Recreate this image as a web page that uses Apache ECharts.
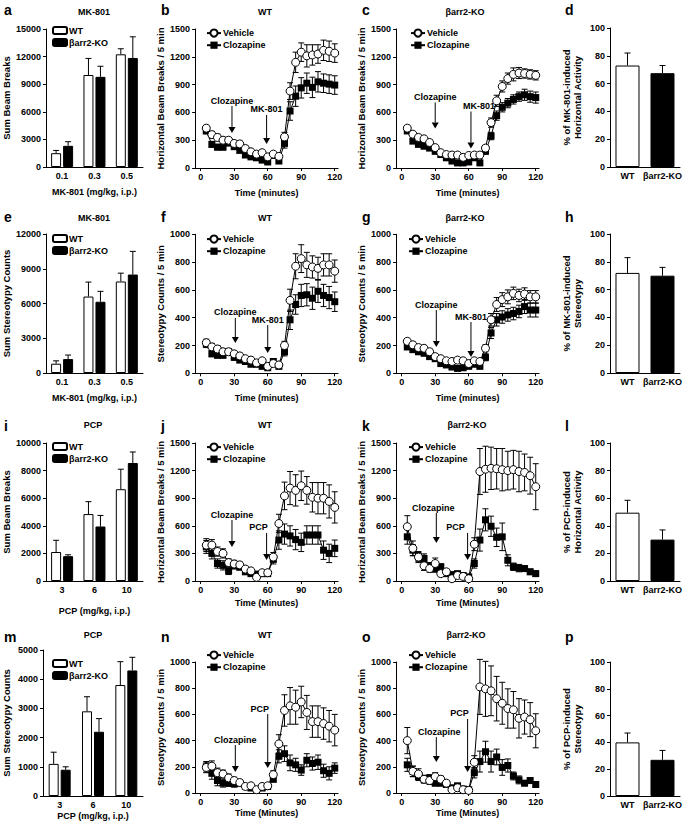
<!DOCTYPE html>
<html><head><meta charset="utf-8">
<script src="https://cdn.jsdelivr.net/npm/echarts@6/dist/echarts.min.js"></script>
<style>html,body{margin:0;padding:0;background:#fff}#c{width:685px;height:823px}</style>
</head><body><div id="c"></div>
<script>
// ---------------- DATA ----------------
const timePts = [5,10,15,20,25,30,35,40,45,50,55,60,65,70,75,80,85,90,95,100,105,110,115,120];
const timeTicks = [0,30,60,90,120];
const mkDoses = ['0.1','0.3','0.5'];
const pcpDoses = ['3','6','10'];
const genotypes = ['WT','βarr2-KO'];

// a: MK-801 sum beam breaks
const aWT = [1500,10000,12250], aWTSem = [300,1800,600];
const aKO = [2300,9800,11850], aKOSem = [450,1150,2300];
// e: MK-801 sum stereotypy
const eWT = [800,6600,7900], eWTSem = [250,1250,720];
const eKO = [1200,6150,8500], eKOSem = [350,900,2000];
// i: PCP sum beam breaks
const iWT = [2100,4850,6650], iWTSem = [850,900,1450];
const iKO = [1800,3950,8550], iKOSem = [100,800,800];
// m: PCP sum stereotypy
const mWT = [1100,2900,3800], mWTSem = [400,500,800];
const mKO = [900,2200,4300], mKOSem = [100,450,450];

// b: WT horizontal, MK-801
const bVehicle = [430,360,330,300,300,265,260,210,175,150,165,120,150,125,335,830,1140,1250,1210,1220,1230,1270,1260,1240];
const bVehicleSem = [30,35,35,30,30,30,30,30,25,25,25,20,25,25,50,90,110,100,120,110,100,110,110,100];
const bClozapine = [400,255,225,225,270,230,190,140,120,110,85,65,135,75,265,615,775,865,915,870,930,915,905,895];
const bClozapineSem = [30,30,30,30,30,30,25,25,25,25,20,20,25,20,50,100,110,110,110,110,110,100,100,100];
// c: KO horizontal, MK-801
const cVehicle = [430,365,330,315,275,220,165,145,140,140,115,135,140,140,215,490,725,880,965,1010,1025,1020,1010,1000];
const cVehicleSem = [25,25,25,25,25,25,20,20,20,20,20,20,20,20,30,50,60,60,60,70,60,50,50,50];
const cClozapine = [400,290,255,235,215,180,145,110,75,55,55,65,110,55,180,345,565,655,700,740,770,790,770,760];
const cClozapineSem = [25,25,25,25,25,25,20,20,20,15,15,15,20,15,30,40,50,50,50,50,50,60,60,60];
// f: WT stereotypy, MK-801
const fVehicle = [220,190,175,155,155,140,125,105,95,75,90,50,70,60,200,525,770,825,780,765,755,780,780,735];
const fVehicleSem = [25,25,25,20,20,20,20,15,15,15,15,10,15,15,30,80,90,100,90,80,80,80,80,80];
const fClozapine = [210,140,130,130,155,115,95,85,65,65,50,40,85,50,155,385,495,560,565,540,590,560,545,515];
const fClozapineSem = [25,20,20,20,20,20,15,15,15,15,10,10,15,10,30,70,70,80,80,80,80,80,80,70];
// g: KO stereotypy, MK-801
const gVehicle = [230,205,185,180,155,120,105,90,85,95,90,70,90,85,180,385,495,530,550,575,560,570,550,550];
const gVehicleSem = [20,20,20,20,20,20,15,15,15,15,15,15,15,15,25,45,50,50,50,45,45,45,45,45];
const gClozapine = [190,170,155,145,120,105,70,60,45,35,40,50,65,50,115,290,385,405,420,430,445,480,455,455];
const gClozapineSem = [20,20,20,20,15,15,15,15,10,10,10,10,15,10,25,40,45,45,45,45,45,50,50,50];
// j: WT horizontal, PCP
const jVehicle = [390,390,320,300,200,185,175,130,110,40,90,90,260,625,925,1010,985,1035,985,910,900,900,865,800];
const jVehicleSem = [70,60,50,50,40,40,30,30,25,20,20,20,50,100,150,180,170,160,150,160,170,170,180,170];
const jClozapine = [370,300,190,170,110,170,150,100,80,75,80,80,235,445,510,490,450,420,500,500,500,335,300,355];
const jClozapineSem = [70,60,50,50,40,40,30,25,20,20,20,20,50,100,110,110,110,100,100,100,100,100,100,90];
// k: KO horizontal, PCP
const kVehicle = [590,355,260,165,135,190,80,100,25,60,50,25,400,1190,1215,1225,1220,1210,1200,1210,1190,1180,1145,1025];
const kVehicleSem = [120,80,60,50,40,60,30,30,20,25,20,15,70,250,250,230,220,230,210,210,220,200,200,250];
const kClozapine = [480,335,260,245,160,135,155,80,70,80,60,45,190,445,665,595,475,480,225,155,140,135,100,80];
const kClozapineSem = [80,60,50,50,40,40,30,20,20,20,20,15,50,120,120,110,100,150,60,40,40,30,30,30];
// n: WT stereotypy, PCP
const nVehicle = [195,205,155,145,115,95,80,50,55,25,50,55,140,375,630,665,655,695,615,545,545,530,510,480];
const nVehicleSem = [40,40,35,30,30,25,20,15,15,10,15,15,30,70,120,140,130,120,130,120,120,120,120,120];
const nClozapine = [200,150,95,75,80,70,75,50,38,25,38,50,105,280,300,230,215,175,250,225,235,170,150,190];
const nClozapineSem = [40,45,40,30,30,25,20,15,15,10,15,15,20,50,60,60,50,40,50,50,55,50,50,40];
// o: KO stereotypy, PCP
const oVehicle = [400,165,145,105,95,125,105,75,25,40,25,20,235,810,795,780,720,685,645,635,570,580,560,475];
const oVehicleSem = [100,40,40,30,30,30,25,20,15,15,15,10,50,210,210,190,170,160,150,140,150,130,130,130];
const oClozapine = [215,165,125,105,115,75,75,65,40,55,30,25,155,240,315,240,275,195,210,130,100,75,95,65];
const oClozapineSem = [50,40,30,25,25,20,20,15,15,15,10,10,40,80,80,80,60,60,50,30,30,20,20,20];

// percent panels
const dPct = [73,67.5], dSem = [9,5.5];
const hPct = [72,70], hSem = [11,6];
const lPct = [49.5,30], lSem = [9,7];
const pPct = [40,27], pSem = [7,7];

// arrow annotations (data units)
const arrowsB = [{label:'Clozapine', x:28, from:669, to:378}, {label:'MK-801', x:59, from:572, to:259}];
const arrowsC = [{label:'Clozapine', x:30, from:707, to:426}, {label:'MK-801', x:62, from:610, to:210}];
const arrowsF = [{label:'Clozapine', x:31, from:398, to:218}, {label:'MK-801', x:60, from:347, to:146}];
const arrowsG = [{label:'Clozapine', x:31, from:455, to:189}, {label:'MK-801', x:62, from:369, to:117}];
const arrowsJ = [{label:'Clozapine', x:28, from:663, to:370}, {label:'PCP', x:59, from:522, to:228}];
const arrowsK = [{label:'Clozapine', x:31, from:739, to:413}, {label:'PCP', x:59, from:522, to:228}];
const arrowsN = [{label:'PCP', x:60, from:603, to:191}, {label:'Clozapine', x:31, from:366, to:160}];
const arrowsO = [{label:'PCP', x:59, from:565, to:160}, {label:'Clozapine', x:31, from:427, to:237}];

// ---------------- BUILD ----------------
const FONT = "'Liberation Sans', Arial, Helvetica, sans-serif";
const BLACK = '#000';
const txt = (size) => ({fontFamily: FONT, fontWeight: 'bold', fontSize: size, color: BLACK});
const SC = 1.117; // px per minute

const option = {animation:false, backgroundColor:'#fff', textStyle:{fontFamily:FONT},
  grid:[], xAxis:[], yAxis:[], series:[], legend:[], graphic:[]};

function addGrid(left, top, width, height){
  option.grid.push({left, top, width, height, containLabel:false});
  return option.grid.length - 1;
}
const axisLine = {show:true, onZero:false, lineStyle:{color:BLACK, width:1}};
function yAxisDef(gi, max, interval, name, nameGap){
  return {type:'value', gridIndex:gi, min:0, max, interval, name, nameLocation:'middle', nameGap,
    nameTextStyle:Object.assign(txt(9.5), {lineHeight:11}),
    axisLine, axisTick:{show:true, length:3, lineStyle:{color:BLACK, width:1}},
    axisLabel:Object.assign(txt(9), {margin:5, formatter:(v)=>String(v)}), splitLine:{show:false}};
}
function errRender(offset, twoSided){
  return function(params, api){
    const x = api.value(0), m = api.value(1), e = api.value(2);
    const top = api.coord([x, m + e]);
    const bot = api.coord([x, twoSided ? Math.max(0, m - e) : m]);
    const cx = top[0] + offset, w = 3;
    const st = {stroke:BLACK, lineWidth:1};
    const ch = [
      {type:'line', shape:{x1:cx, y1:top[1], x2:cx, y2:bot[1]}, style:st},
      {type:'line', shape:{x1:cx-w, y1:top[1], x2:cx+w, y2:top[1]}, style:st}];
    if (twoSided) ch.push({type:'line', shape:{x1:cx-w, y1:bot[1], x2:cx+w, y2:bot[1]}, style:st});
    return {type:'group', children:ch};
  };
}
function arrowRender(list, dxs){
  return function(params, api){
    const a = list[params.dataIndex];
    const s = api.coord([api.value(0), api.value(1)]);
    const e = api.coord([api.value(0), api.value(2)]);
    const h = 6, w = 3.5;
    return {type:'group', children:[
      {type:'line', shape:{x1:s[0], y1:s[1], x2:e[0], y2:e[1]-h}, style:{stroke:BLACK, lineWidth:1}},
      {type:'polygon', shape:{points:[[e[0]-w, e[1]-h],[e[0]+w, e[1]-h],[e[0], e[1]]]}, style:{fill:BLACK}},
      {type:'text', x:s[0] + (dxs[params.dataIndex]||0), y:s[1]-1,
        style:{text:a.label, fill:BLACK, font:'bold 9px ' + FONT, align:'center', verticalAlign:'bottom', textAlign:'center', textVerticalAlign:'bottom'}}
    ]};
  };
}
function legendDef(left, top, names, iw, ih, gap){
  return {show:true, orient:'vertical', left, top, padding:0, itemWidth:iw, itemHeight:ih, itemGap:gap,
    data:names, selectedMode:false, textStyle:Object.assign(txt(9), {padding:[0,0,0,-3]})};
}
function addText(text, x, y, size, align){
  option.graphic.push({type:'text', x, y, silent:true,
    style:{text, fill:BLACK, font:'bold ' + size + 'px ' + FONT, align:align, verticalAlign:'middle', textAlign:align, textVerticalAlign:'middle'}});
}

function timePanel(p){
  const gi = addGrid(p.x0 - 5*SC, p.top, 128*SC, p.bottom - p.top);
  option.xAxis.push({type:'value', gridIndex:gi, min:-5, max:123, name:p.xname, nameLocation:'middle', nameGap:p.xGap,
    nameTextStyle:txt(9), axisLine,
    axisTick:{show:true, length:3, customValues:timeTicks, lineStyle:{color:BLACK, width:1}},
    axisLabel:Object.assign(txt(9), {margin:4, customValues:timeTicks}), splitLine:{show:false}});
  option.yAxis.push(yAxisDef(gi, p.ymax, p.yint, p.yname, p.yGap));
  const common = {xAxisIndex:gi, yAxisIndex:gi};
  option.series.push(Object.assign({type:'custom', name:'semC'+gi, renderItem:errRender(0, true), clip:false, z:1, silent:true,
    data:timePts.map((t,k)=>[t, p.clo[k], p.cloSem[k]])}, common));
  option.series.push(Object.assign({type:'custom', name:'semV'+gi, renderItem:errRender(0, true), clip:false, z:1, silent:true,
    data:timePts.map((t,k)=>[t, p.veh[k], p.vehSem[k]])}, common));
  option.series.push(Object.assign({type:'line', name:'Clozapine', z:2, symbol:'rect', symbolSize:7, showAllSymbol:true,
    itemStyle:{color:BLACK}, lineStyle:{color:BLACK, width:1}, silent:true,
    data:timePts.map((t,k)=>[t, p.clo[k]])}, common));
  option.series.push(Object.assign({type:'line', name:'Vehicle', z:3, symbol:'circle', symbolSize:8, showAllSymbol:true,
    itemStyle:{color:'#fff', borderColor:BLACK, borderWidth:1}, lineStyle:{color:BLACK, width:1}, silent:true,
    data:timePts.map((t,k)=>[t, p.veh[k]])}, common));
  option.series.push(Object.assign({type:'custom', name:'arr'+gi, renderItem:arrowRender(p.arrows, p.dx||[]), clip:false, z:4, silent:true,
    data:p.arrows.map(a=>[a.x, a.from, a.to])}, common));
  option.legend.push(legendDef(p.legX, p.legY, ['Vehicle','Clozapine'], 14, 9, 3));
  addText(p.title, p.titleX, p.titleY, 9, 'center');
  addText(p.letter, p.letterX, p.letterY, 14, 'left');
}

function barPanel(p){
  const gi = addGrid(43, p.top, 100, p.bottom - p.top);
  option.xAxis.push({type:'category', gridIndex:gi, data:p.cats, name:p.xname, nameLocation:'middle', nameGap:p.xGap,
    nameTextStyle:txt(9), axisLine, axisTick:{show:false}, axisLabel:Object.assign(txt(9), {margin:4, interval:0}), splitLine:{show:false}});
  option.yAxis.push(yAxisDef(gi, p.ymax, p.yint, p.yname, p.yGap));
  const common = {xAxisIndex:gi, yAxisIndex:gi};
  option.series.push(Object.assign({type:'bar', name:'WT', data:p.wt, barWidth:10, barGap:'20%', silent:true,
    itemStyle:{color:'#fff', borderColor:BLACK, borderWidth:1}}, common));
  option.series.push(Object.assign({type:'bar', name:'βarr2-KO', data:p.ko, barWidth:10, barGap:'20%', silent:true,
    itemStyle:{color:BLACK, borderColor:BLACK, borderWidth:1}}, common));
  option.series.push(Object.assign({type:'custom', name:'eW'+gi, renderItem:errRender(-6, false), clip:false, z:3, silent:true,
    data:p.wt.map((v,k)=>[k, v, p.wtSem[k]])}, common));
  option.series.push(Object.assign({type:'custom', name:'eK'+gi, renderItem:errRender(6, false), clip:false, z:3, silent:true,
    data:p.ko.map((v,k)=>[k, v, p.koSem[k]])}, common));
  option.legend.push(legendDef(52, p.legY, ['WT','βarr2-KO'], 14, 7, 3));
  addText(p.title, p.titleX, p.titleY, 9, 'center');
  addText(p.letter, 4, p.letterY, 14, 'left');
}

function pctPanel(p){
  const gi = addGrid(610, p.top, 70, p.bottom - p.top);
  option.xAxis.push({type:'category', gridIndex:gi, data:genotypes, axisLine, axisTick:{show:false},
    axisLabel:Object.assign(txt(9), {margin:4, interval:0, hideOverlap:false}), splitLine:{show:false}});
  option.yAxis.push(yAxisDef(gi, 100, 20, p.yname, 27));
  const common = {xAxisIndex:gi, yAxisIndex:gi};
  const fills = ['#fff', BLACK];
  option.series.push(Object.assign({type:'bar', name:'pct'+gi, barWidth:24, silent:true,
    itemStyle:{borderColor:BLACK, borderWidth:1},
    data:p.vals.map((v,k)=>({value:v, itemStyle:{color:fills[k]}}))}, common));
  option.series.push(Object.assign({type:'custom', name:'eP'+gi, renderItem:errRender(0, false), clip:false, z:3, silent:true,
    data:p.vals.map((v,k)=>[k, v, p.sem[k]])}, common));
  addText(p.letter, 565, p.letterY, 14, 'left');
}

const COL2 = 200.7, COL3 = 401.7;
const HB = 'Horizontal Beam Breaks / 5 min', SCN = 'Stereotypy Counts / 5 min';

// Row 1
barPanel({top:29, bottom:167, cats:mkDoses, xname:'MK-801 (mg/kg, i.p.)', xGap:20, ymax:15000, yint:3000,
  yname:'Sum Beam Breaks', yGap:31, wt:aWT, wtSem:aWTSem, ko:aKO, koSem:aKOSem, legY:26,
  title:'MK-801', titleX:94, titleY:12, letter:'a', letterY:10});
timePanel({x0:COL2, top:29, bottom:168, ymax:1500, yint:300, yname:HB, yGap:22, xname:'Time (minutes)', xGap:20,
  veh:bVehicle, vehSem:bVehicleSem, clo:bClozapine, cloSem:bClozapineSem, arrows:arrowsB,
  legX:206, legY:28.5, title:'WT', titleX:265, titleY:12, letter:'b', letterX:161, letterY:10});
timePanel({x0:COL3, top:29, bottom:168, ymax:1500, yint:300, yname:HB, yGap:22, xname:'Time (minutes)', xGap:20,
  veh:cVehicle, vehSem:cVehicleSem, clo:cClozapine, cloSem:cClozapineSem, arrows:arrowsC, dx:[0,8],
  legX:410, legY:28.5, title:'βarr2-KO', titleX:465, titleY:12, letter:'c', letterX:362, letterY:10});
pctPanel({top:28, bottom:167, vals:dPct, sem:dSem, yname:'% of MK-801-induced\nHorizontal Activity', letter:'d', letterY:10});

// Row 2
barPanel({top:234, bottom:373, cats:mkDoses, xname:'MK-801 (mg/kg, i.p.)', xGap:20, ymax:12000, yint:3000,
  yname:'Sum Stereotypy Counts', yGap:31, wt:eWT, wtSem:eWTSem, ko:eKO, koSem:eKOSem, legY:234,
  title:'MK-801', titleX:94, titleY:218, letter:'e', letterY:217});
timePanel({x0:COL2, top:234.3, bottom:373.3, ymax:1000, yint:200, yname:SCN, yGap:22, xname:'Time (minutes)', xGap:20,
  veh:fVehicle, vehSem:fVehicleSem, clo:fClozapine, cloSem:fClozapineSem, arrows:arrowsF,
  legX:206, legY:234.5, title:'WT', titleX:265, titleY:218, letter:'f', letterX:161, letterY:217});
timePanel({x0:COL3, top:234.3, bottom:373.3, ymax:1000, yint:200, yname:SCN, yGap:22, xname:'Time (minutes)', xGap:20,
  veh:gVehicle, vehSem:gVehicleSem, clo:gClozapine, cloSem:gClozapineSem, arrows:arrowsG,
  legX:408, legY:234.5, title:'βarr2-KO', titleX:465, titleY:218, letter:'g', letterX:362, letterY:217});
pctPanel({top:234, bottom:373, vals:hPct, sem:hSem, yname:'% of MK-801-induced\nStereotypy', letter:'h', letterY:217});

// Row 3
barPanel({top:443, bottom:581, cats:pcpDoses, xname:'PCP (mg/kg, i.p.)', xGap:25, ymax:10000, yint:2000,
  yname:'Sum Beam Breaks', yGap:31, wt:iWT, wtSem:iWTSem, ko:iKO, koSem:iKOSem, legY:442,
  title:'PCP', titleX:93, titleY:425, letter:'i', letterY:426});
timePanel({x0:COL2, top:443, bottom:581, ymax:1500, yint:300, yname:HB, yGap:22, xname:'Time (Minutes)', xGap:17.5,
  veh:jVehicle, vehSem:jVehicleSem, clo:jClozapine, cloSem:jClozapineSem, arrows:arrowsJ, dx:[0,-8],
  legX:206, legY:442.5, title:'WT', titleX:265, titleY:425, letter:'j', letterX:161, letterY:426});
timePanel({x0:COL3, top:443, bottom:581, ymax:1500, yint:300, yname:HB, yGap:22, xname:'Time (Minutes)', xGap:17.5,
  veh:kVehicle, vehSem:kVehicleSem, clo:kClozapine, cloSem:kClozapineSem, arrows:arrowsK, dx:[-3,-12],
  legX:408, legY:442.5, title:'βarr2-KO', titleX:467, titleY:425, letter:'k', letterX:362, letterY:426});
pctPanel({top:443, bottom:581, vals:lPct, sem:lSem, yname:'% of PCP-induced\nHorizontal Activity', letter:'l', letterY:426});

// Row 4
barPanel({top:650, bottom:796, cats:pcpDoses, xname:'PCP (mg/kg, i.p.)', xGap:15, ymax:5000, yint:1000,
  yname:'Sum Stereotypy Counts', yGap:31, wt:mWT, wtSem:mWTSem, ko:mKO, koSem:mKOSem, legY:659,
  title:'PCP', titleX:93, titleY:635, letter:'m', letterY:637});
timePanel({x0:COL2, top:662, bottom:793, ymax:1000, yint:200, yname:SCN, yGap:22, xname:'Time (Minutes)', xGap:15.5,
  veh:nVehicle, vehSem:nVehicleSem, clo:nClozapine, cloSem:nClozapineSem, arrows:arrowsN, dx:[-8,0],
  legX:206, legY:650.5, title:'WT', titleX:265, titleY:635, letter:'n', letterX:161, letterY:637});
timePanel({x0:COL3, top:662, bottom:793, ymax:1000, yint:200, yname:SCN, yGap:22, xname:'Time (Minutes)', xGap:15.5,
  veh:oVehicle, vehSem:oVehicleSem, clo:oClozapine, cloSem:oClozapineSem, arrows:arrowsO, dx:[-8,3],
  legX:408, legY:650.5, title:'βarr2-KO', titleX:466, titleY:635, letter:'o', letterX:362, letterY:637});
pctPanel({top:662, bottom:796, vals:pPct, sem:pSem, yname:'% of PCP-induced\nStereotypy', letter:'p', letterY:637});

const chart = echarts.init(document.getElementById('c'), null, {renderer:'svg', width:685, height:823});
chart.setOption(option);
</script></body></html>
